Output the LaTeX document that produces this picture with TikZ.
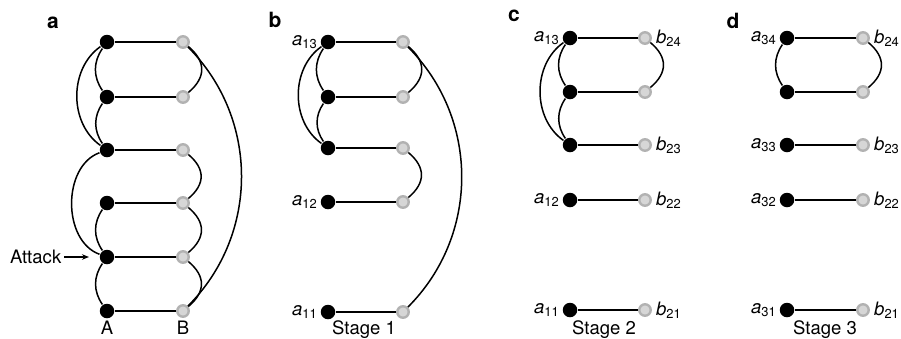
\documentclass[tikz,border=0pt]{standalone}
\usepackage{fontspec}
\setmainfont{TeX Gyre Heros}
\usetikzlibrary{arrows.meta}
\definecolor{ringout}{gray}{0.70}
\definecolor{ringin}{gray}{0.84}
\begin{document}
\begin{tikzpicture}[x=1pt, y=1pt, line width=1.5pt,
  anode/.style={circle, fill=black, minimum size=14.5pt, inner sep=0pt},
  bnode/.style={circle, fill=ringin, draw=ringout, line width=2.4pt, minimum size=11.5pt, inner sep=0pt},
  lbl/.style={font=\fontsize{18.5}{22}\selectfont, inner sep=2pt},
  blbl/.style={lbl, anchor=west, inner sep=3.5pt},
  plbl/.style={font=\fontsize{21}{24}\selectfont\bfseries, anchor=base, inner sep=0pt},
  bendl/.style={out=235, in=125},
  bendL/.style={out=215, in=145},
  bendr/.style={out=-40, in=40, looseness=1.3},
  bendR/.style={out=-45, in=45}]

  \useasboundingbox (0, 0) rectangle (901, -338);

  % a
  \foreach \i/\y in {1/42, 2/97, 3/150, 4/203, 5/257, 6/311} {
    \node[anode] (aA\i) at (107, -\y) {};
    \node[bnode] (aB\i) at (183, -\y) {};
    \draw (aA\i) -- (aB\i);
  }
  \draw (aA1) to[bendl] (aA2);
  \draw (aA2) to[bendl] (aA3);
  \draw (aA1) to[bendL] (aA3);
  \draw (aA3) to[out=200, in=160] (aA5);
  \draw (aA4) to[bendl] (aA5);
  \draw (aA5) to[bendl] (aA6);
  \draw (aB1) to[bendr] (aB2);
  \draw (aB3) to[bendr] (aB4);
  \draw (aB4) to[bendr] (aB5);
  \draw (aB5) to[bendr] (aB6);
  \draw (aB1) to[bendR] (aB6);

  \node[plbl] (la) at (53, -28) {a};
  \node[lbl, anchor=base] (lA) at (107, -334) {A};
  \node[lbl, anchor=base] (lB) at (183, -334) {B};
  \node[lbl, anchor=east] (attack) at (64, -257) {Attack};
  \draw[line width=1.2pt, -{Stealth[length=7pt, width=5.5pt]}, shorten >=10pt] (attack) -- (aA5);

  % b
  \foreach \i/\y in {1/42, 2/97, 3/148, 4/202, 5/312} {
    \node[anode] (bA\i) at (328, -\y) {};
    \node[bnode] (bB\i) at (403, -\y) {};
    \draw (bA\i) -- (bB\i);
  }
  \draw (bA1) to[bendl] (bA2);
  \draw (bA2) to[bendl] (bA3);
  \draw (bA1) to[bendL] (bA3);
  \draw (bB1) to[bendr] (bB2);
  \draw (bB3) to[bendr] (bB4);
  \draw (bB1) to[bendR] (bB5);

  \node[plbl] (lb) at (275, -27) {b};
  \node[lbl, anchor=east] (ba13) at (bA1.west) {\textit{a}\textsubscript{13}};
  \node[lbl, anchor=east] (ba12) at (bA4.west) {\textit{a}\textsubscript{12}};
  \node[lbl, anchor=east] (ba11) at (bA5.west) {\textit{a}\textsubscript{11}};
  \node[lbl, anchor=base] (stage1) at (364, -334) {Stage 1};

  % c
  \foreach \i/\y in {1/38, 2/92, 3/145, 4/200, 5/310} {
    \node[anode] (cA\i) at (570, -\y) {};
    \node[bnode] (cB\i) at (645, -\y) {};
    \draw (cA\i) -- (cB\i);
  }
  \draw (cA1) to[bendl] (cA2);
  \draw (cA2) to[bendl] (cA3);
  \draw (cA1) to[bendL] (cA3);
  \draw (cB1) to[bendr] (cB2);

  \node[plbl] (lc) at (514, -21) {c};
  \node[lbl, anchor=east] (ca13) at (cA1.west) {\textit{a}\textsubscript{13}};
  \node[lbl, anchor=east] (ca12) at (cA4.west) {\textit{a}\textsubscript{12}};
  \node[lbl, anchor=east] (ca11) at (cA5.west) {\textit{a}\textsubscript{11}};
  \node[blbl] (cb24) at (cB1.east) {\textit{b}\textsubscript{24}};
  \node[blbl] (cb23) at (cB3.east) {\textit{b}\textsubscript{23}};
  \node[blbl] (cb22) at (cB4.east) {\textit{b}\textsubscript{22}};
  \node[blbl] (cb21) at (cB5.east) {\textit{b}\textsubscript{21}};
  \node[lbl, anchor=base] (stage2) at (604, -334) {Stage 2};

  % d
  \foreach \i/\y in {1/38, 2/92, 3/145, 4/200, 5/310} {
    \node[anode] (dA\i) at (787, -\y) {};
    \node[bnode] (dB\i) at (863, -\y) {};
    \draw (dA\i) -- (dB\i);
  }
  \draw (dA1) to[bendl] (dA2);
  \draw (dB1) to[bendr] (dB2);

  \node[plbl] (ld) at (733, -28) {d};
  \node[lbl, anchor=east] (da34) at (dA1.west) {\textit{a}\textsubscript{34}};
  \node[lbl, anchor=east] (da33) at (dA3.west) {\textit{a}\textsubscript{33}};
  \node[lbl, anchor=east] (da32) at (dA4.west) {\textit{a}\textsubscript{32}};
  \node[lbl, anchor=east] (da31) at (dA5.west) {\textit{a}\textsubscript{31}};
  \node[blbl] (db24) at (dB1.east) {\textit{b}\textsubscript{24}};
  \node[blbl] (db23) at (dB3.east) {\textit{b}\textsubscript{23}};
  \node[blbl] (db22) at (dB4.east) {\textit{b}\textsubscript{22}};
  \node[blbl] (db21) at (dB5.east) {\textit{b}\textsubscript{21}};
  \node[lbl, anchor=base] (stage3) at (825, -334) {Stage 3};

\end{tikzpicture}
\end{document}
